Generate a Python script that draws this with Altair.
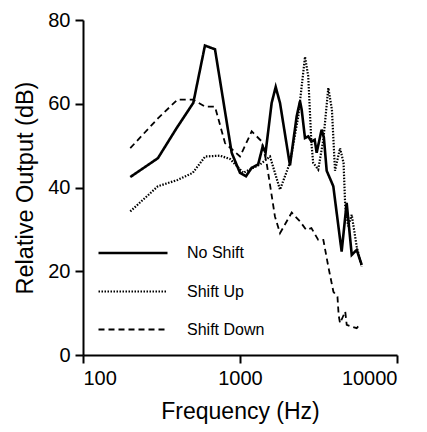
import altair as alt
import pandas as pd

series_names = ["No Shift", "Shift Up", "Shift Down"]

no_shift_freq = [200, 300, 395, 504, 598, 693, 885, 1000, 1092, 1187, 1305, 1395, 1455,
                 1591, 1688, 1798, 2081, 2296, 2411, 2470, 2594, 2720, 2850, 2990, 3078,
                 3310, 3420, 3566, 3929, 4130, 4440, 4780, 5150, 5540, 5960]
no_shift_db = [42.5, 47, 54.2, 60.2, 73.9, 73, 48.3, 43.5, 42.7, 44.7, 45.5, 49.8, 48.3,
               60.2, 64, 60.2, 45.3, 57, 60.6, 58.6, 51.8, 52.2, 51, 51.4, 48.3,
               53.8, 52, 44, 40.3, 33.9, 24.7, 36.3, 23.9, 25.1, 21.5]

shift_up_freq = [200, 300, 400, 500, 600, 746, 865, 1050, 1341, 1553, 1798, 2081, 2352,
                 2594, 2720, 2850, 2925, 3150, 3395, 3652, 3850, 4029, 4337, 4566, 4680,
                 4890, 5146, 5537, 5960]
shift_up_db = [34.3, 40.3, 41.8, 43.5, 47.4, 47.6, 46.8, 43.5, 45.5, 47.4, 39.5, 45.9, 57,
               71.2, 66.6, 50.6, 45.9, 44.3, 51.4, 63.8, 58.6, 44, 49.4, 45.9, 35.5,
               30.7, 33.5, 25.9, 21.1]

shift_down_freq = [200, 300, 400, 500, 600, 693, 803, 1000, 1187, 1376, 1477, 1669, 1798,
                   2135, 2411, 2640, 2850, 3150, 3395, 3652, 3935, 4177, 4250, 4337, 4680,
                   4783, 5537, 5700]
shift_down_db = [49.4, 56.5, 61, 61, 59.3, 59.3, 50.6, 47.4, 53.4, 51, 45.9, 33.1, 29.1,
                 34, 31.9, 29.9, 30.3, 27.5, 27.5, 21.1, 15.1, 13.9, 9.5, 7.6, 10.4,
                 7.2, 6.4, 7]

x_ticks = [100, 1000, 10000]
y_ticks = [0, 20, 40, 60, 80]

frames = []
for name, f, d in [(series_names[0], no_shift_freq, no_shift_db),
                   (series_names[1], shift_up_freq, shift_up_db),
                   (series_names[2], shift_down_freq, shift_down_db)]:
    frames.append(pd.DataFrame({"freq": f, "db": d, "series": name}))
df = pd.concat(frames, ignore_index=True)

FONT = "Liberation Sans"

chart = alt.Chart(df).mark_line(color="black", strokeCap="butt").encode(
    x=alt.X("freq:Q",
            scale=alt.Scale(type="log", domain=[100, 10000]),
            axis=alt.Axis(values=x_ticks, format="d", title="Frequency (Hz)",
                          titlePadding=12, labelPadding=5, titleFontSize=23)),
    y=alt.Y("db:Q",
            scale=alt.Scale(domain=[0, 80], nice=False),
            axis=alt.Axis(values=y_ticks, title="Relative Output (dB)",
                          titlePadding=10, labelPadding=5, titleFontSize=23.5)),
    strokeDash=alt.StrokeDash("series:N",
                              scale=alt.Scale(domain=series_names,
                                              range=[[1, 0], [1.5, 1.5], [6, 4]]),
                              legend=alt.Legend(title=None, orient="none",
                                                legendX=37, legendY=220,
                                                symbolType="M-3,0H3",
                                                symbolSize=529,
                                                labelFontSize=16,
                                                labelFont=FONT,
                                                labelColor="black",
                                                labelOffset=41,
                                                rowPadding=17.5,
                                                symbolStrokeColor="black")),
    strokeWidth=alt.StrokeWidth("series:N",
                                scale=alt.Scale(domain=series_names,
                                                range=[2.6, 1.8, 2]),
                                legend=None),
    order=alt.Order("freq:Q"),
).properties(
    width=314, height=335,
    padding={"left": 75, "top": 12, "right": 10, "bottom": 80},
    autosize="none",
).configure_view(stroke=None).configure_axis(
    grid=False,
    domainColor="black", domainWidth=2,
    tickColor="black", tickWidth=2, tickSize=8,
    labelFont=FONT, labelFontSize=20, labelColor="black",
    titleFont=FONT, titleFontWeight="normal", titleColor="black",
)

chart.save("out.html", embed_options={"renderer": "svg", "actions": False})
